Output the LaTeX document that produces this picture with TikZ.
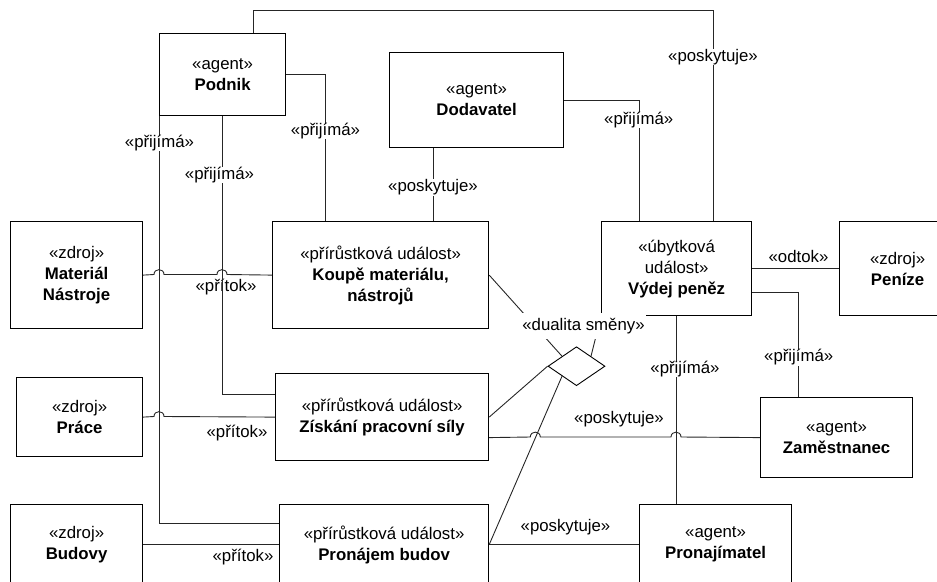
\documentclass[tikz,border=0pt]{standalone}
\usepackage{fontspec}
\setmainfont{Liberation Sans}
\usetikzlibrary{shapes.geometric,calc}
\begin{document}
\begin{tikzpicture}[x=1pt,y=-1pt,
  txt/.style={font=\fontsize{16.8}{21}\selectfont},
  box/.style={txt,draw=black,line width=1.2pt,align=center,anchor=north west,inner sep=0pt},
  conn/.style={draw=black!85,line width=0.9pt},
  onlab/.style={txt,fill=white,inner sep=0.5pt},
  sidelab/.style={txt,inner sep=0pt},
]
\useasboundingbox (0,0) rectangle (937,581);
\clip (0,0) rectangle (937,581);

% agents, resources and events
\node[box,minimum width=126pt,minimum height=82pt] (podnik) at (159,33) {«agent»\\\textbf{Podnik}};
\node[box,minimum width=174pt,minimum height=95pt] (dodavatel) at (389,52) {«agent»\\\textbf{Dodavatel}};
\node[box,minimum width=132pt,minimum height=107pt] (material) at (10,221) {«zdroj»\\\textbf{Materiál}\\\textbf{Nástroje}};
\node[box,minimum width=216pt,minimum height=107pt] (koupe) at (272,221) {«přírůstková událost»\\\textbf{Koupě materiálu,}\\\textbf{nástrojů}};
\node[box,minimum width=150pt,minimum height=94pt] (vydej) at (601,221) {«úbytková\\událost»\\\textbf{Výdej peněz}};
\node[box,minimum width=116pt,minimum height=94pt] (penize) at (839,221) {«zdroj»\\\textbf{Peníze}};
\node[box,minimum width=126pt,minimum height=79pt] (prace) at (16,377) {«zdroj»\\\textbf{Práce}};
\node[box,minimum width=213pt,minimum height=87pt] (ziskani) at (275,373) {«přírůstková událost»\\\textbf{Získání pracovní síly}};
\node[box,minimum width=152pt,minimum height=80pt] (zamestnanec) at (760,397) {«agent»\\\textbf{Zaměstnanec}};
\node[box,minimum width=132pt,minimum height=80pt] (budovy) at (10,504) {«zdroj»\\\textbf{Budovy}};
\node[box,minimum width=209pt,minimum height=80pt] (pronajem) at (279,504) {«přírůstková událost»\\\textbf{Pronájem budov}};
\node[box,minimum width=152pt,minimum height=80pt] (pronajimatel) at (639,504) {«agent»\\\textbf{Pronajímatel}};

% exchange duality
\node[diamond,draw=black,line width=0.9pt,minimum width=57pt,minimum height=39pt,inner sep=0pt] (dual) at (576.5,366.2) {};
\coordinate (dnw) at ($(dual.west)!0.5!(dual.north)$);
\coordinate (dne) at ($(dual.north)!0.5!(dual.east)$);
\coordinate (dsw) at ($(dual.west)!0.5!(dual.south)$);

% connectors
\path[conn] (podnik.north -| 253,0) -- (253,10) -| (vydej.north -| 713,0);
\path[conn] (podnik.east) -| (koupe.north -| 325.5,0);
\path[conn] (podnik.south west) |- (pronajem.west |- 0,523);
\path[conn] (dodavatel.south -| 433,0) -- (koupe.north -| 433,0);
\path[conn] (dodavatel.east) -| (vydej.north -| 639,0);
\path[conn] (material.east) -- (154,274.5) .. controls (154,268) and (164,268) .. (164,274.5)
  -- (217,274.5) .. controls (217,268) and (227,268) .. (227,274.5) -- (koupe.west);
\path[conn] (prace.east) -- (154,416.5) .. controls (154,410) and (164,410) .. (164,416.5) -- (ziskani.west |- prace.east);
\path[conn] (budovy.east) -- (pronajem.west);
\path[conn] (vydej.east) -- (penize.west |- vydej.east);
\path[conn] (vydej.east |- 0,292) -| (zamestnanec.north -| 798.3,0);
\path[conn] (vydej.south) -- (pronajimatel.north -| vydej.south);
\path[conn] (ziskani.east |- zamestnanec.west) -- (530.3,437) .. controls (530.3,430.5) and (540.3,430.5) .. (540.3,437)
  -- (671,437) .. controls (671,430.5) and (681,430.5) .. (681,437) -- (zamestnanec.west);
\path[conn] (pronajem.east) -- (pronajimatel.west |- pronajem.east);
\path[conn] (koupe.east) -- (dnw);
\path[conn] (dne) -- (vydej.south west);
\path[conn] (dual.west) -- (ziskani.east);
\path[conn] (dsw) -- (pronajem.east);

% connector labels
\node[onlab] (l1) at (713,57) {«poskytuje»};
\node[onlab] (l2) at (325.5,131) {«přijímá»};
\node[onlab] (l3) at (159.5,143) {«přijímá»};
\node[onlab] (l5) at (433,187.5) {«poskytuje»};
\node[onlab] (l6) at (638.7,120) {«přijímá»};
\node[sidelab] (l7) at (226,287.5) {«přítok»};
\node[sidelab] (l8) at (237,433) {«přítok»};
\node[sidelab] (l9) at (243,557) {«přítok»};
\node[sidelab] (l10) at (798.5,256.5) {«odtok»};
\node[onlab] (l11) at (798.7,357.5) {«přijímá»};
\node[onlab] (l12) at (685,369) {«přijímá»};
\node[sidelab] (l13) at (619,419) {«poskytuje»};
\node[sidelab] (l14) at (565.5,527) {«poskytuje»};
\node[onlab,minimum height=26pt,inner xsep=1.5pt] (l15) at (583.5,326) {«dualita směny»};

% this connector passes over the «přítok» label above
\path[conn] (podnik.south) |- (ziskani.west |- 0,394);
\node[onlab] (l4) at (219.5,175) {«přijímá»};
\end{tikzpicture}
\end{document}
